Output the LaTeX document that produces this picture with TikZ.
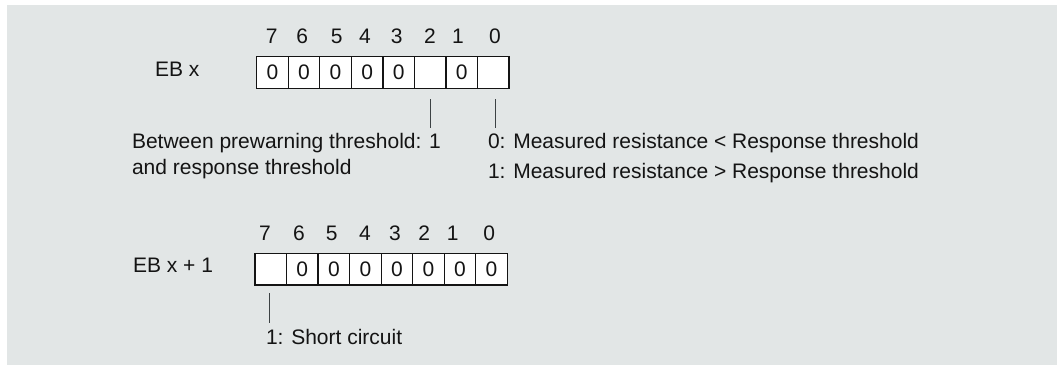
\documentclass[tikz,border=0pt]{standalone}
\usepackage{fontspec}
\setmainfont{Liberation Sans}
\usetikzlibrary{calc}
\definecolor{panel}{RGB}{226,230,230}
\definecolor{ink}{RGB}{20,20,20}
\definecolor{leadgray}{RGB}{60,66,68}
\tikzset{
  txt/.style={inner sep=0pt, outer sep=0pt, text=ink,
    font=\fontsize{21}{25}\selectfont},
  bitno/.style={txt, anchor=base},
  cell/.style={txt, draw=ink, line width=1.3pt, fill=white,
    minimum width=31.54pt, minimum height=31.7pt},
  leader/.style={draw=leadgray, line width=1pt}
}
\begin{document}
\begin{tikzpicture}[x=1pt,y=-1pt]
  % page and grey panel
  \fill[white] (0,0) rectangle (1057,365);
  \fill[panel] (7,5) rectangle (1057,365);
  \useasboundingbox (0,0) rectangle (1057,365);

  % ---------- byte EB x ----------
  \node[txt, anchor=base west] (ebx) at (155,76) {EB x};
  \node[bitno] (tn7) at (271.7,43.3) {7};
  \node[bitno] (tn6) at (302.3,43.3) {6};
  \node[bitno] (tn5) at (336.7,43.3) {5};
  \node[bitno] (tn4) at (365.0,43.3) {4};
  \node[bitno] (tn3) at (396.7,43.3) {3};
  \node[bitno] (tn2) at (430.0,43.3) {2};
  \node[bitno] (tn1) at (458.0,43.3) {1};
  \node[bitno] (tn0) at (495.0,43.3) {0};

  \node[cell] (t7) at (272.47,72.5) {0};
  \node[cell] (t6) at (304.01,72.5) {0};
  \node[cell] (t5) at (335.55,72.5) {0};
  \node[cell] (t4) at (367.09,72.5) {0};
  \node[cell] (t3) at (398.63,72.5) {0};
  \node[cell] (t2) at (430.17,72.5) {};
  \node[cell] (t1) at (461.71,72.5) {0};
  \node[cell] (t0) at (493.25,72.5) {};

  \node[txt, anchor=base west] (pre1) at (132,148) {Between prewarning threshold: 1};
  \node[txt, anchor=base west] (pre2) at (132,174.5) {and response threshold};
  \node[txt, anchor=base west] (res0) at (488,148.3) {0: Measured resistance < Response threshold};
  \node[txt, anchor=base west] (res1) at (488,178.3) {1: Measured resistance > Response threshold};

  \coordinate (l2a) at ($(t2.south)+(0.8,10.7)$);
  \coordinate (l2b) at ($(l2a)+(0,29)$);
  \coordinate (l0a) at ($(t0.south)+(2.4,10.7)$);
  \coordinate (l0b) at ($(l0a)+(0,29)$);
  \draw[leader] (l2a) -- (l2b);
  \draw[leader] (l0a) -- (l0b);

  % ---------- byte EB x + 1 ----------
  \node[txt, anchor=base west] (ebx1) at (133,272.7) {EB x + 1};
  \node[bitno] (bn7) at (265.0,240) {7};
  \node[bitno] (bn6) at (299.0,240) {6};
  \node[bitno] (bn5) at (331.7,240) {5};
  \node[bitno] (bn4) at (365.0,240) {4};
  \node[bitno] (bn3) at (395.0,240) {3};
  \node[bitno] (bn2) at (424.3,240) {2};
  \node[bitno] (bn1) at (452.7,240) {1};
  \node[bitno] (bn0) at (489.3,240) {0};

  \node[cell] (b7) at (270.77,269.2) {};
  \node[cell] (b6) at (302.31,269.2) {0};
  \node[cell] (b5) at (333.85,269.2) {0};
  \node[cell] (b4) at (365.39,269.2) {0};
  \node[cell] (b3) at (396.93,269.2) {0};
  \node[cell] (b2) at (428.47,269.2) {0};
  \node[cell] (b1) at (460.01,269.2) {0};
  \node[cell] (b0) at (491.55,269.2) {0};

  \node[txt, anchor=base west] (sc) at (266,344) {1: Short circuit};

  \coordinate (l7a) at ($(b7.south)+(-1,8.3)$);
  \coordinate (l7b) at ($(l7a)+(0,29.4)$);
  \draw[leader] (l7a) -- (l7b);
\end{tikzpicture}
\end{document}
